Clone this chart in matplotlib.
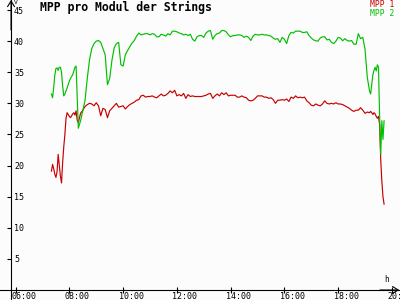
import numpy as np
import matplotlib
matplotlib.use('Agg')
import matplotlib.pyplot as plt
from matplotlib.transforms import ScaledTranslation

# sample times in minutes after midnight (finer steps around sunrise / sunset)
minutes = np.concatenate([np.arange(440, 500.1, 2.5),
                          np.arange(505, 1150.1, 5),
                          np.arange(1152.5, 1182.6, 2.5)])

# MPP 1 voltage per module (V)
mpp1 = [
    # 07:20 - 08:20 (2.5 min)
    19.1, 20.2, 19.5, 18.6, 18.1, 19.0, 21.8, 20.0, 18.3, 17.2, 20.5, 23.0, 25.0,
    27.6, 28.5, 28.2, 27.9, 27.7, 28.0, 28.3, 28.5, 28.1, 28.8, 27.3, 26.9,
    # 08:25 - 19:10 (5 min)
    28.4, 28.9, 29.5, 29.8, 30.0, 29.9, 29.6, 30.1, 29.6, 28.0, 29.2, 29.0,
    27.7, 28.8, 29.2, 29.6, 30.0, 29.4, 29.5, 29.6, 29.1, 29.5, 29.8, 30.0,
    30.2, 30.5, 30.6, 31.2, 31.3, 31.0, 31.1, 31.1, 31.2, 31.0, 30.9, 31.2,
    31.5, 31.2, 31.3, 31.6, 32.0, 31.7, 32.1, 31.2, 31.4, 31.2, 31.6, 30.8,
    31.4, 31.1, 31.2, 31.1, 31.1, 31.1, 31.1, 31.2, 31.3, 31.5, 31.6, 30.8,
    31.2, 31.5, 31.2, 31.7, 31.4, 31.7, 31.2, 31.3, 31.3, 31.3, 31.0, 31.0,
    31.2, 31.0, 30.9, 30.5, 30.4, 30.5, 30.8, 31.2, 31.2, 31.2, 31.0, 31.0,
    30.8, 30.9, 30.6, 30.0, 30.5, 30.5, 30.6, 30.5, 30.7, 30.3, 31.0, 30.8,
    31.2, 30.9, 31.0, 30.9, 31.0, 30.4, 30.1, 29.7, 29.6, 29.9, 29.7, 29.6,
    29.9, 30.4, 30.0, 29.9, 30.0, 29.9, 30.1, 29.9, 29.9, 29.8, 29.6, 29.4,
    29.2, 28.9, 28.7, 28.9, 28.9, 29.3, 28.9, 28.4, 28.6, 28.5,
    # 19:12 - 19:42 (2.5 min)
    28.7, 28.5, 28.2, 28.5, 28.3, 27.9, 27.6, 27.9, 26.6, 21.0, 17.5, 15.0, 13.8,
]

# MPP 2 voltage per module (V)
mpp2 = [
    31.5, 30.9, 32.5, 34.5, 35.6, 35.7, 35.3, 35.8, 35.8, 35.0, 32.8, 31.2, 31.5,
    32.0, 32.5, 33.0, 33.6, 34.0, 34.3, 34.6, 35.2, 35.8, 36.0, 31.0, 26.0,
    27.2, 28.8, 30.5, 34.0, 37.0, 38.8, 39.6, 40.0, 40.1, 39.8, 38.8, 37.8,
    33.0, 34.0, 36.9, 38.9, 39.6, 39.8, 36.2, 36.0, 37.8, 38.5, 39.1, 39.7,
    40.1, 40.8, 41.3, 41.0, 41.1, 41.2, 41.2, 41.0, 41.2, 41.1, 40.7, 40.7,
    41.1, 41.0, 40.8, 41.2, 41.0, 41.6, 41.6, 41.5, 41.3, 41.2, 41.0, 41.1,
    40.9, 41.1, 40.3, 40.0, 40.7, 40.9, 40.9, 40.6, 41.3, 41.6, 41.7, 40.3,
    40.9, 41.2, 41.3, 41.7, 41.7, 41.5, 41.0, 40.7, 40.9, 40.9, 41.0, 41.0,
    40.9, 40.6, 40.8, 40.6, 40.1, 40.8, 41.1, 41.0, 41.0, 41.1, 41.0, 41.0,
    40.9, 40.8, 40.5, 40.3, 40.4, 39.8, 40.6, 40.3, 39.6, 40.9, 41.4, 41.3,
    41.6, 41.6, 41.6, 41.4, 41.4, 41.5, 40.9, 40.5, 40.2, 40.05, 40.0, 40.5,
    40.7, 40.7, 40.2, 40.3, 39.8, 39.6, 40.0, 40.6, 40.5, 40.05, 40.4, 40.1,
    40.0, 40.1, 39.5, 39.5, 41.2, 40.4, 40.6, 38.7, 34.2, 32.0,
    31.5, 33.0, 34.6, 35.3, 35.8, 35.2, 36.2, 35.8, 28.0, 21.8, 27.2, 24.2, 27.2,
]

hour_ticks = [6, 8, 10, 12, 14, 16, 18, 20]
hour_labels = ['06:00', '08:00', '10:00', '12:00', '14:00', '16:00', '18:00', '20:00']
volt_ticks = [5, 10, 15, 20, 25, 30, 35, 40, 45]

plt.rcParams['font.family'] = 'DejaVu Sans Mono'

fig = plt.figure(figsize=(4, 3), dpi=100, facecolor='#fcfcfc')
ax = fig.add_axes([0, 0, 1, 1], facecolor='#fcfcfc')

hours = minutes / 60
ax.plot(hours, mpp1, color='#c80000', lw=0.85, label='MPP 1')
ax.plot(hours, mpp2, color='#00c000', lw=0.85, label='MPP 2')

ax.set_xlim(5.4195, 20.3007)
ax.set_ylim(-1.607, 46.61)

# axes cross near the origin, like the old data logger plots
y_axis_at = 5.83
for s in ['top', 'right']:
    ax.spines[s].set_visible(False)
ax.spines['left'].set_position(('data', y_axis_at))
ax.spines['bottom'].set_position(('data', 0))
ax.spines['left'].set_linewidth(0.8)
ax.spines['bottom'].set_linewidth(0.8)

ax.set_xticks(hour_ticks, hour_labels)
ax.set_yticks(volt_ticks, [str(v) for v in volt_ticks])
ax.tick_params(axis='x', direction='inout', length=3.8, width=0.8, pad=-0.5, labelsize=6)
ax.tick_params(axis='y', direction='out', length=2.9, width=0.8, pad=-5, labelsize=6)
for lbl in ax.get_yticklabels():
    lbl.set_horizontalalignment('left')
shift = ScaledTranslation(-4.5 / 100, 0, fig.dpi_scale_trans)
for lbl in ax.get_xticklabels():
    lbl.set_horizontalalignment('left')
    lbl.set_transform(lbl.get_transform() + shift)

# arrow heads on the axes
arrow = dict(arrowstyle='->,head_length=0.4,head_width=0.25', lw=0.8,
             color='black', shrinkA=0, shrinkB=0)
ax.annotate('', xy=(y_axis_at, 1.0), xytext=(y_axis_at, 0.9),
            xycoords=('data', 'axes fraction'), arrowprops=arrow)
ax.annotate('', xy=(0.998, 0), xytext=(0.95, 0),
            xycoords=('axes fraction', 'data'), arrowprops=arrow)

fig.text(14 / 400, 1.0, 'V', fontsize=4.5, va='top', ha='left')
fig.text(384 / 400, 1 - 284 / 300, 'h', fontsize=5.5, va='bottom', ha='left')

fig.text(40 / 400, 1 - 10.7 / 300, 'MPP pro Modul der Strings',
         fontsize=8.3, fontweight='bold', va='baseline', ha='left')

leg = ax.legend(loc='upper right', bbox_to_anchor=(394 / 400, 1.0),
                bbox_transform=fig.transFigure, frameon=False,
                handlelength=0, handletextpad=0, borderpad=0,
                borderaxespad=0, labelspacing=-0.05, fontsize=5.8)
for txt, h in zip(leg.get_texts(), leg.legend_handles):
    txt.set_color(h.get_color())
    h.set_visible(False)

fig.savefig('out.png', dpi=100, facecolor=fig.get_facecolor())
